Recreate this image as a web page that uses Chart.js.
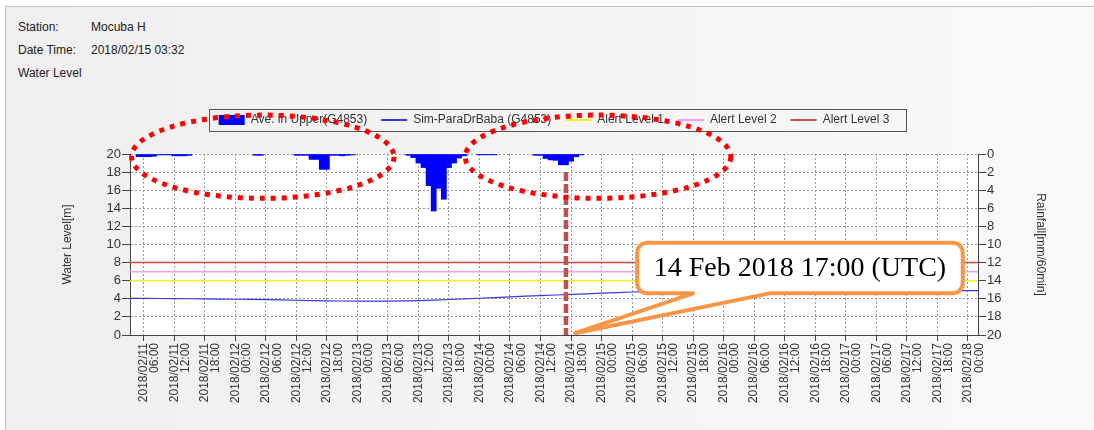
<!DOCTYPE html>
<html>
<head>
<meta charset="utf-8">
<script src="https://cdn.jsdelivr.net/npm/chart.js@4.4.1/dist/chart.umd.min.js"></script>
<style>
  html, body { margin: 0; padding: 0; background: #fff; }
  body { width: 1094px; height: 430px; position: relative; overflow: hidden; font-family: 'Liberation Sans', Arial, sans-serif; }
  #panel { position: absolute; left: 5px; top: 6px; width: 1089px; height: 424px; border-top: 1px solid #c4c4c4; border-left: 1px solid #c4c4c4; background: linear-gradient(to right, #efefef, #f9f9f9); }
  .hd { position: absolute; font-size: 12px; line-height: 14px; color: #222; }
  canvas { position: absolute; left: 0; top: 0; }
</style>
</head>
<body>
<div id="panel"></div>
<div class="hd" style="left:18px;top:20px">Station:</div>
<div class="hd" style="left:91px;top:20px">Mocuba H</div>
<div class="hd" style="left:18px;top:43px">Date Time:</div>
<div class="hd" style="left:91px;top:43px">2018/02/15 03:32</div>
<div class="hd" style="left:18px;top:66px">Water Level</div>
<canvas id="chart" width="1094" height="430"></canvas>
<script>
// hours counted from 2018/02/11 00:00
const tickHours = [6, 12, 18, 24, 30, 36, 42, 48, 54, 60, 66, 72, 78, 84, 90, 96,
  102, 108, 114, 120, 126, 132, 138, 144, 150, 156, 162, 168];

// rainfall, mm/60min (right axis, hanging from the top)
const rainHours = [5, 6, 7, 8, 9, 10, 11, 12, 13, 14, 15,
  28, 29,
  36, 37, 38, 39, 40, 41, 42, 43, 44, 45, 46, 47,
  58, 59, 60, 61, 62, 63, 64, 65, 66, 67, 68, 69,
  72, 73, 74, 75,
  83, 84, 85, 86, 87, 88, 89, 90, 91, 92];
const rainfall = [0.3, 0.3, 0.3, 0.25, 0.1, 0.1, 0.1, 0.2, 0.2, 0.2, 0.15,
  0.15, 0.15,
  0.15, 0.15, 0.15, 0.6, 0.6, 1.7, 1.7, 0.15, 0.15, 0.2, 0.15, 0.1,
  0.15, 0.4, 1.0, 1.5, 3.5, 6.3, 3.8, 5.0, 1.5, 1.0, 0.45, 0.2,
  0.1, 0.1, 0.1, 0.1,
  0.15, 0.15, 0.5, 0.65, 0.7, 1.2, 1.2, 0.8, 0.3, 0.1];

// simulated water level, m
const levelHours = [3, 6, 12, 18, 24, 30, 36, 42, 48, 54, 60, 66, 72, 78, 84, 90, 96,
  102, 108, 114, 120, 126, 132, 138, 144, 150, 156, 162, 168, 170];
const waterLevel = [4.05, 4.04, 4.02, 3.99, 3.95, 3.90, 3.84, 3.78, 3.74, 3.74, 3.80, 3.92, 4.06, 4.22, 4.36, 4.48, 4.62,
  4.75, 4.82, 4.85, 4.86, 4.87, 4.88, 4.88, 4.89, 4.89, 4.90, 4.90, 4.90, 4.90];

const alertNames = ['Alert Level 1', 'Alert Level 2', 'Alert Level 3'];
const alertLevels = [6, 7, 8];

const levelTicks = [0, 2, 4, 6, 8, 10, 12, 14, 16, 18, 20];

const xMin = 3.3;
const xMax = 170;
const markHour = 89; // 14 Feb 2018 17:00
const markText = '14 Feb 2018 17:00 (UTC)';

const alertColors = ['#f2f22a', '#f0a0ee', '#d04848'];
const font = "'Liberation Sans', Arial, sans-serif";

function tickLabel(h) {
  const day = 11 + Math.floor(h / 24);
  const hr = h % 24;
  return ['2018/02/' + String(day).padStart(2, '0'), String(hr).padStart(2, '0') + ':00'];
}

const datasets = [
  {
    type: 'bar',
    label: 'Ave. in Upper(G4853)',
    data: rainHours.map((h, i) => ({ x: h, y: rainfall[i] })),
    yAxisID: 'y2',
    backgroundColor: '#0000ff',
    borderColor: '#0000ff',
    borderWidth: 0,
    barPercentage: 1,
    categoryPercentage: 1,
    pointStyle: 'rect'
  },
  {
    type: 'line',
    label: 'Sim-ParaDrBaba (G4853)',
    data: levelHours.map((h, i) => ({ x: h, y: waterLevel[i] })),
    yAxisID: 'y',
    borderColor: '#3a3ad0',
    borderWidth: 1.2,
    pointRadius: 0,
    tension: 0.3,
    pointStyle: 'line'
  }
];
alertLevels.forEach((lv, i) => {
  datasets.push({
    type: 'line',
    label: alertNames[i],
    data: [{ x: xMin, y: lv }, { x: xMax, y: lv }],
    yAxisID: 'y',
    borderColor: alertColors[i],
    borderWidth: 1.5,
    pointRadius: 0,
    pointStyle: 'line'
  });
});

const plotBg = {
  id: 'plotBg',
  beforeDraw(chart) {
    const { ctx, chartArea: a } = chart;
    ctx.save();
    ctx.fillStyle = '#ffffff';
    ctx.fillRect(a.left, a.top, a.right - a.left, a.bottom - a.top);
    ctx.restore();
  }
};

const overlay = {
  id: 'overlay',
  afterDraw(chart) {
    const { ctx, scales: { x, y } } = chart;

    // legend frame
    const boxes = chart.legend.legendHitBoxes;
    const first = boxes[0], last = boxes[boxes.length - 1];
    ctx.save();
    ctx.strokeStyle = '#555';
    ctx.lineWidth = 1;
    ctx.strokeRect(Math.round(first.left - 10) + 0.5, Math.round(first.top - 5) + 0.5,
      Math.round(last.left + last.width + 16 - (first.left - 10)), Math.round(first.height + 10));
    ctx.restore();

    // dashed marker line
    const mx = x.getPixelForValue(markHour);
    ctx.save();
    ctx.strokeStyle = '#c0504d';
    ctx.lineWidth = 4.5;
    ctx.setLineDash([9, 3]);
    ctx.beginPath();
    ctx.moveTo(mx, y.getPixelForValue(18));
    ctx.lineTo(mx, y.getPixelForValue(0));
    ctx.stroke();
    ctx.restore();

    // callout
    const bl = x.getPixelForValue(103), br = x.getPixelForValue(167);
    const bt = y.getPixelForValue(10.2), bb = y.getPixelForValue(4.6);
    const p1 = x.getPixelForValue(114), p2 = x.getPixelForValue(129);
    const tx = x.getPixelForValue(90.8), ty = y.getPixelForValue(0.2);
    const r = 10;
    ctx.save();
    ctx.beginPath();
    ctx.moveTo(bl + r, bt);
    ctx.lineTo(br - r, bt);
    ctx.arcTo(br, bt, br, bt + r, r);
    ctx.lineTo(br, bb - r);
    ctx.arcTo(br, bb, br - r, bb, r);
    ctx.lineTo(p2, bb);
    ctx.lineTo(tx, ty);
    ctx.lineTo(p1, bb);
    ctx.lineTo(bl + r, bb);
    ctx.arcTo(bl, bb, bl, bb - r, r);
    ctx.lineTo(bl, bt + r);
    ctx.arcTo(bl, bt, bl + r, bt, r);
    ctx.closePath();
    ctx.fillStyle = '#ffffff';
    ctx.fill();
    ctx.strokeStyle = '#f79646';
    ctx.lineWidth = 4;
    ctx.lineJoin = 'round';
    ctx.stroke();
    ctx.fillStyle = '#000';
    ctx.font = "28px 'Liberation Serif', 'Times New Roman', serif";
    ctx.textAlign = 'center';
    ctx.textBaseline = 'middle';
    ctx.fillText(markText, (bl + br) / 2, (bt + bb) / 2 + 1);
    ctx.restore();

    // dotted red ellipses
    const rings = [[3.6, 55.2], [69.2, 121.4]];
    const et = y.getPixelForValue(24.3), eb = y.getPixelForValue(15.1);
    ctx.save();
    ctx.strokeStyle = '#ff0000';
    ctx.lineWidth = 5;
    ctx.setLineDash([5, 6]);
    rings.forEach(([a, b]) => {
      const l = x.getPixelForValue(a), rr = x.getPixelForValue(b);
      ctx.beginPath();
      ctx.ellipse((l + rr) / 2, (et + eb) / 2, (rr - l) / 2, (eb - et) / 2, 0, 0, Math.PI * 2);
      ctx.stroke();
    });
    ctx.restore();
  }
};

new Chart(document.getElementById('chart'), {
  type: 'line',
  data: { datasets },
  plugins: [plotBg, overlay],
  options: {
    responsive: false,
    animation: false,
    events: [],
    layout: { padding: { left: 56, right: 42, top: 100, bottom: 0 } },
    plugins: {
      tooltip: { enabled: false },
      title: { display: true, text: '', weight: 500, padding: { top: 0, bottom: 6 }, font: { size: 10 } },
      legend: {
        display: true,
        position: 'top',
        labels: {
          usePointStyle: true,
          pointStyleWidth: 26,
          boxHeight: 10,
          padding: 14,
          color: '#333',
          font: { family: font, size: 12 },
          generateLabels(chart) {
            const items = Chart.defaults.plugins.legend.labels.generateLabels(chart);
            items.forEach(it => {
              const ds = chart.data.datasets[it.datasetIndex];
              if (ds.type === 'bar') {
                it.pointStyle = 'rect';
                it.lineWidth = 0;
              } else {
                it.pointStyle = 'line';
                it.lineWidth = 2;
              }
            });
            return items;
          }
        }
      }
    },
    scales: {
      x: {
        type: 'linear',
        min: xMin,
        max: xMax,
        offset: false,
        afterBuildTicks(scale) { scale.ticks = tickHours.map(v => ({ value: v })); },
        afterFit(scale) { scale.height = 95; },
        grid: { offset: false, color: '#999', tickColor: '#444', tickLength: 6, tickBorderDash: [] },
        border: { display: true, color: '#444', dash: [2, 2] },
        ticks: {
          autoSkip: false,
          minRotation: 90,
          maxRotation: 90,
          padding: 2,
          color: '#333',
          font: { family: font, size: 12, lineHeight: 0.95 },
          callback: (v) => tickLabel(v)
        }
      },
      y: {
        type: 'linear',
        position: 'left',
        min: 0,
        max: 20,
        afterBuildTicks(scale) { scale.ticks = levelTicks.map(v => ({ value: v })); },
        afterFit(scale) { scale.width = 74; },
        grid: { color: '#999', tickColor: '#444', tickLength: 8, tickBorderDash: [] },
        border: { display: true, color: '#444', dash: [2, 2] },
        ticks: { autoSkip: false, padding: 1, color: '#333', font: { family: font, size: 13, lineHeight: 1 } },
        title: { display: true, text: 'Water Level[m]', color: '#333', font: { family: font, size: 12 } }
      },
      y2: {
        type: 'linear',
        position: 'right',
        reverse: true,
        min: 0,
        max: 20,
        afterBuildTicks(scale) { scale.ticks = levelTicks.map(v => ({ value: v })); },
        afterFit(scale) { scale.width = 74; },
        grid: { drawOnChartArea: false, tickColor: '#444', tickLength: 8 },
        border: { display: true, color: '#444' },
        ticks: { autoSkip: false, padding: 1, color: '#333', font: { family: font, size: 13, lineHeight: 1 } },
        title: { display: true, text: 'Rainfall[mm/60min]', color: '#333', font: { family: font, size: 12 } }
      }
    }
  }
});
</script>
</body>
</html>
